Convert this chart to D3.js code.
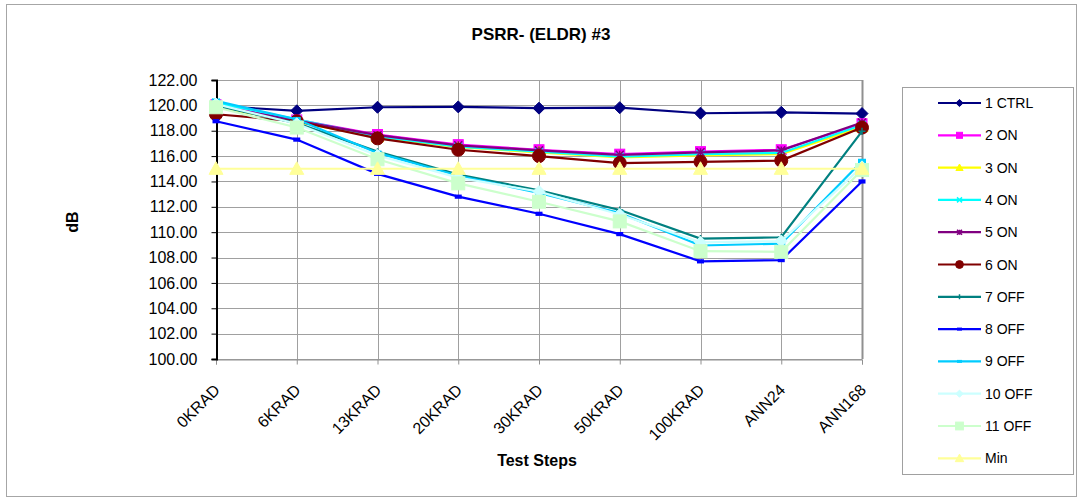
<!DOCTYPE html>
<html><head><meta charset="utf-8">
<script src="https://cdn.jsdelivr.net/npm/d3@7"></script>
<style>body{margin:0;background:#fff}svg{display:block;font-family:Arial,"Liberation Sans",sans-serif}</style>
</head><body><svg id="c" width="1083" height="502"></svg>
<script>
const categories = ["0KRAD","6KRAD","13KRAD","20KRAD","30KRAD","50KRAD","100KRAD","ANN24","ANN168"];
const yTicks = [100,102,104,106,108,110,112,114,116,118,120,122];
const ctrl1 = [119.95,119.57,119.85,119.88,119.78,119.82,119.38,119.45,119.35];
const on2   = [120.05,118.85,117.70,116.90,116.50,116.15,116.35,116.50,118.55];
const on3   = [119.85,118.70,117.50,116.70,116.30,115.90,116.05,116.15,118.30];
const on4   = [120.20,118.90,117.55,116.75,116.35,115.95,116.15,116.25,118.45];
const on5   = [119.95,118.80,117.65,116.85,116.45,116.10,116.30,116.45,118.65];
const on6   = [119.30,118.75,117.40,116.50,116.00,115.45,115.55,115.65,118.25];
const off7  = [119.95,118.60,116.35,114.55,113.30,111.75,109.50,109.60,117.95];
const off8  = [118.75,117.30,114.60,112.80,111.45,109.85,107.70,107.80,114.00];
const off9  = [120.35,118.90,116.25,114.45,113.10,111.50,108.95,109.10,115.60];
const off10 = [120.10,118.55,116.05,114.30,113.20,111.40,109.20,109.30,115.15];
const off11 = [119.85,118.25,115.75,113.85,112.40,110.85,108.50,108.45,114.90];
const minLine = [115,115,115,115,115,115,115,115,115];
const seriesNames = ["1 CTRL","2 ON","3 ON","4 ON","5 ON","6 ON","7 OFF","8 OFF","9 OFF","10 OFF","11 OFF","Min"];
const seriesValues = [ctrl1,on2,on3,on4,on5,on6,off7,off8,off9,off10,off11,minLine];
const seriesColors = ["#000080","#FF00FF","#FFFF00","#00FFFF","#800080","#800000","#008080","#0000FF","#00CCFF","#CCFFFF","#CCFFCC","#FFFF99"];
const seriesMarkers = ["diamond","square","triangle","x","star","circle","plus","dash","dash2","diamond","square","triangle"];
const markerSizes = [6,5,6,4,4,6.5,3.5,3.5,4,6,6.5,7];

const svg = d3.select("#c");
const L=216, R=862, T=80, B=359;
const x = d3.scalePoint().domain(categories).range([L,R]);
const y = d3.scaleLinear().domain([100,122]).range([B,T]);

// outer border
svg.append("rect").attr("x",6.5).attr("y",4.5).attr("width",1070).attr("height",492).attr("fill","#fff").attr("stroke","#a6a6a6");

// gridlines
svg.append("g").selectAll("line").data(yTicks).join("line")
  .attr("x1",L).attr("x2",R).attr("y1",d=>Math.round(y(d))+0.5).attr("y2",d=>Math.round(y(d))+0.5)
  .attr("stroke","#a0a0a0").attr("stroke-width",1);
svg.append("g").selectAll("line").data(categories).join("line")
  .attr("y1",T).attr("y2",B).attr("x1",d=>Math.round(x(d))+0.5).attr("x2",d=>Math.round(x(d))+0.5)
  .attr("stroke","#a0a0a0").attr("stroke-width",1);
// right border
svg.append("line").attr("x1",R+0.5).attr("x2",R+0.5).attr("y1",T).attr("y2",B).attr("stroke","#909090").attr("stroke-width",2);

// x axis
const xg = svg.append("g").attr("transform",`translate(0,${B+0.5})`)
  .call(d3.axisBottom(x).tickSize(5).tickPadding(0).tickFormat(""));
xg.select(".domain").attr("stroke","#909090");
xg.selectAll(".tick line").attr("stroke","#909090");
svg.append("g").selectAll("text").data(categories).join("text")
  .attr("transform",d=>`translate(${x(d)+5},${391}) rotate(-45)`)
  .attr("text-anchor","end").attr("font-size",16).attr("fill","#000").text(d=>d);

// y axis
const yg = svg.append("g").attr("transform",`translate(${L+0.5},0)`)
  .call(d3.axisLeft(y).tickValues(yTicks).tickSize(5).tickPadding(14).tickFormat(d3.format(".2f")));
yg.select(".domain").attr("stroke","#000").attr("stroke-width",2);
yg.selectAll(".tick line").attr("stroke","#000");
yg.selectAll(".tick text").attr("font-size",16).attr("fill","#000").attr("font-family","Arial, 'Liberation Sans', sans-serif");

// titles
svg.append("text").attr("x",541).attr("y",40).attr("text-anchor","middle").attr("font-size",17).attr("font-weight","bold").text("PSRR- (ELDR) #3");
svg.append("text").attr("x",537).attr("y",466).attr("text-anchor","middle").attr("font-size",16).attr("font-weight","bold").text("Test Steps");
svg.append("text").attr("transform","translate(78,222) rotate(-90)").attr("text-anchor","middle").attr("font-size",16).attr("font-weight","bold").text("dB");

function drawMarker(g, type, cx, cy, s, color){
  if(type==="diamond"){
    g.append("path").attr("d",`M${cx},${cy-s}L${cx+s},${cy}L${cx},${cy+s}L${cx-s},${cy}Z`).attr("fill",color).attr("stroke",color);
  } else if(type==="square"){
    g.append("rect").attr("x",cx-s).attr("y",cy-s).attr("width",2*s).attr("height",2*s).attr("fill",color).attr("stroke",color);
  } else if(type==="triangle"){
    g.append("path").attr("d",`M${cx},${cy-s}L${cx+s},${cy+s*0.8}L${cx-s},${cy+s*0.8}Z`).attr("fill",color).attr("stroke",color);
  } else if(type==="circle"){
    g.append("circle").attr("cx",cx).attr("cy",cy).attr("r",s).attr("fill",color).attr("stroke",color);
  } else if(type==="x"){
    g.append("path").attr("d",`M${cx-s},${cy-s}L${cx+s},${cy+s}M${cx-s},${cy+s}L${cx+s},${cy-s}`).attr("stroke",color).attr("stroke-width",1.5);
  } else if(type==="star"){
    g.append("path").attr("d",`M${cx-s},${cy-s}L${cx+s},${cy+s}M${cx-s},${cy+s}L${cx+s},${cy-s}M${cx},${cy-s}L${cx},${cy+s}`).attr("stroke",color).attr("stroke-width",1.5);
  } else if(type==="plus"){
    g.append("path").attr("d",`M${cx-s},${cy}L${cx+s},${cy}M${cx},${cy-s}L${cx},${cy+s}`).attr("stroke",color).attr("stroke-width",1.5);
  } else if(type==="dash"){
    g.append("rect").attr("x",cx-s).attr("y",cy-s*0.6).attr("width",2*s).attr("height",1.2*s).attr("fill",color);
  } else if(type==="dash2"){
    g.append("rect").attr("x",cx-s).attr("y",cy-s*0.6).attr("width",2*s).attr("height",1.2*s).attr("fill",color);
  }
}

const line = d3.line().x((d,i)=>x(categories[i])).y(d=>y(d));
seriesValues.forEach((vals,k)=>{
  const g = svg.append("g");
  g.append("path").attr("d",line(vals)).attr("fill","none").attr("stroke",seriesColors[k]).attr("stroke-width",2.2);
  vals.forEach((v,i)=>drawMarker(g,seriesMarkers[k],x(categories[i]),y(v),markerSizes[k],seriesColors[k]));
});

// legend
const lg = svg.append("g");
lg.append("rect").attr("x",902.5).attr("y",87.5).attr("width",171).attr("height",387).attr("fill","#fff").attr("stroke","#a0a0a0");
seriesNames.forEach((n,k)=>{
  const yy = 103 + k*32.3;
  lg.append("line").attr("x1",938).attr("x2",981).attr("y1",yy).attr("y2",yy).attr("stroke",seriesColors[k]).attr("stroke-width",2.2);
  drawMarker(lg,seriesMarkers[k],959.5,yy,Math.max(2.5,markerSizes[k]*0.6),seriesColors[k]);
  lg.append("text").attr("x",985).attr("y",yy+5).attr("font-size",14).attr("fill","#000").text(n);
});
</script></body></html>
